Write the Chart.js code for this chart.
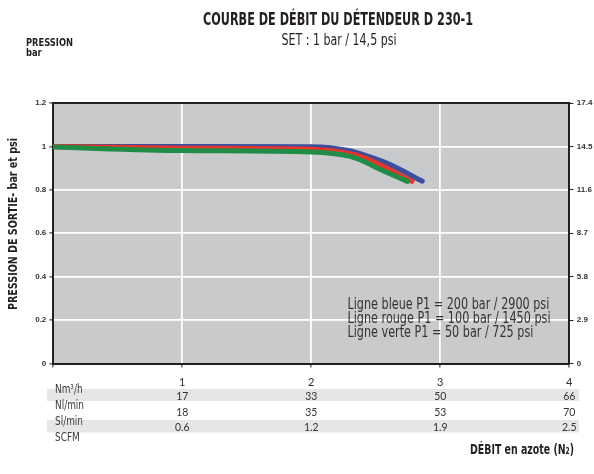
<!DOCTYPE html>
<html><head><meta charset="utf-8">
<script src="https://cdn.jsdelivr.net/npm/chart.js@4.4.1/dist/chart.umd.min.js"></script>
<style>html,body{margin:0;padding:0;background:#fff}#wrap{width:594px;height:474px;position:relative}canvas{display:block}</style>
</head><body><div id="wrap"><canvas id="c" width="594" height="474"></canvas></div>
<script>
// ---- texts ----
const chartTitle = 'COURBE DE DÉBIT DU DÉTENDEUR D 230-1';
const chartSubtitle = 'SET : 1 bar / 14,5 psi';
const yAxisTitle = 'PRESSION DE SORTIE- bar et psi';
const cornerLabel = ['PRESSION', 'bar'];
const xAxisTitle = 'DÉBIT en azote (N₂)';
const legendLines = [
  'Ligne bleue P1 = 200 bar / 2900 psi',
  'Ligne rouge P1 = 100 bar / 1450 psi',
  'Ligne verte P1 = 50 bar / 725 psi'
];
// ---- ticks ----
const barTicks = [0, 0.2, 0.4, 0.6, 0.8, 1, 1.2];
const psiTicks = [0, 2.9, 5.8, 8.7, 11.6, 14.5, 17.4];
const flowTicks = [1, 2, 3, 4];            // Nm³/h
// ---- conversion table ----
const unitLabels = ['Nm³/h', 'Nl/min', 'Sl/min', 'SCFM'];
const nlMin = ['17', '33', '50', '66'];
const slMin = ['18', '35', '53', '70'];
const scfm = ['0.6', '1.2', '1.9', '2.5'];
// ---- series (x: Nm³/h, y: bar) ----
const blueX = [0, 1, 2.0, 2.3, 2.4, 2.585, 2.86];
const blueY = [1.0, 1.0, 0.999, 0.98, 0.962, 0.923, 0.84];
const redX = [0, 1, 2.0, 2.3, 2.4, 2.55, 2.78];
const redY = [1.0, 0.992, 0.987, 0.967, 0.95, 0.91, 0.839];
const greenX = [0, 1, 2.0, 2.3, 2.4, 2.52, 2.745];
const greenY = [0.997, 0.981, 0.974, 0.954, 0.933, 0.898, 0.839];

const NARROW = '"Liberation Sans Narrow","DejaVu Sans Condensed","Liberation Sans",sans-serif';
const pts = (xs, ys) => xs.map((v, i) => ({x: v, y: ys[i]}));

function fitText(ctx, txt, x, y, font, w, align, color) {
  ctx.save();
  ctx.font = font; ctx.fillStyle = color; ctx.textBaseline = 'middle'; ctx.textAlign = align;
  const s = w / ctx.measureText(txt).width;
  ctx.translate(x, y); ctx.scale(s, 1); ctx.fillText(txt, 0, 0);
  ctx.restore();
}
function scaledText(ctx, txt, x, y, font, s, align, color) {
  ctx.save();
  ctx.font = font; ctx.fillStyle = color; ctx.textBaseline = 'middle'; ctx.textAlign = align;
  ctx.translate(x, y); ctx.scale(s, 1); ctx.fillText(txt, 0, 0);
  ctx.restore();
}

const decor = {
  id: 'decor',
  beforeDraw(chart) {
    const {ctx, chartArea: a} = chart;
    ctx.save();
    ctx.fillStyle = '#c9cacc';
    ctx.fillRect(a.left, a.top, a.right - a.left, a.bottom - a.top);
    // table bands
    ctx.fillStyle = '#e6e6e6';
    ctx.fillRect(47, 389, 532, 12);
    ctx.fillRect(47, 420, 532, 12.5);
    ctx.restore();
  },
  afterDraw(chart) {
    const {ctx, chartArea: a, scales: {x}} = chart;
    // top frame line
    ctx.save();
    ctx.strokeStyle = '#231f20'; ctx.lineWidth = 2;
    ctx.beginPath(); ctx.moveTo(a.left - 1, a.top); ctx.lineTo(a.right + 1, a.top); ctx.stroke();
    ctx.restore();
    // titles
    fitText(ctx, chartTitle, 338, 21, 'bold 17px ' + NARROW, 270, 'center', '#231f20');
    fitText(ctx, chartSubtitle, 339, 41.5, '15px ' + NARROW, 115, 'center', '#231f20');
    ctx.save(); ctx.font = 'bold 11px ' + NARROW;
    const cs = 47 / ctx.measureText(cornerLabel[0]).width; ctx.restore();
    scaledText(ctx, cornerLabel[0], 26, 43, 'bold 11px ' + NARROW, cs, 'left', '#231f20');
    scaledText(ctx, cornerLabel[1], 26, 53, 'bold 11px ' + NARROW, cs, 'left', '#231f20');
    // y axis title
    ctx.save();
    ctx.translate(14, 224); ctx.rotate(-Math.PI / 2);
    fitText(ctx, yAxisTitle, 0, 0, 'bold 13px ' + NARROW, 172, 'center', '#231f20');
    ctx.restore();
    // legend text inside plot
    ctx.save(); ctx.font = '15px ' + NARROW;
    const s = 203 / ctx.measureText(legendLines[1]).width; ctx.restore();
    legendLines.forEach((t, i) => scaledText(ctx, t, 347.5, 305 + i * 13.9, '15px ' + NARROW, s, 'left', '#333333'));
    // table
    ctx.save(); ctx.font = '12px ' + NARROW;
    const ls = 29 / ctx.measureText(unitLabels[1]).width; ctx.restore();
    const labelY = [390, 405.7, 422.3, 438.3];
    unitLabels.forEach((t, i) => scaledText(ctx, t, 55, labelY[i], '12px ' + NARROW, ls, 'left', '#3a3a3a'));
    const rows = [nlMin, slMin, scfm];
    const rowY = [396.7, 412.3, 427.3];
    rows.forEach((r, j) => r.forEach((t, i) => {
      const px = x.getPixelForValue(flowTicks[i]);
      scaledText(ctx, t, px, rowY[j], '11px Lato, "Open Sans", sans-serif', 0.95, 'center', '#333333');
    }));
    // x axis title
    fitText(ctx, xAxisTitle, 574, 450, 'bold 14px ' + NARROW, 104, 'right', '#231f20');
  }
};

const tickFont = {family: '"Liberation Sans", Arial, sans-serif', size: 8, weight: 'bold'};

new Chart(document.getElementById('c'), {
  type: 'line',
  data: {
    datasets: [
      {label: 'verte', data: pts(greenX, greenY), borderColor: '#1f8d46'},
      {label: 'rouge', data: pts(redX, redY), borderColor: '#e8342a'},
      {label: 'bleue', data: pts(blueX, blueY), borderColor: '#3b4f9e'}
    ].map(d => Object.assign(d, {
      borderWidth: 5, pointRadius: 0, fill: false, cubicInterpolationMode: 'monotone',
      borderCapStyle: 'round', borderJoinStyle: 'round', yAxisID: 'y'
    }))
  },
  options: {
    responsive: false, animation: false, devicePixelRatio: 1,
    layout: {padding: {top: 103, left: 0, right: 0, bottom: 0}},
    plugins: {legend: {display: false}, tooltip: {enabled: false}, title: {display: false}},
    scales: {
      x: {
        type: 'linear', min: 0, max: 4, position: 'bottom',
        afterBuildTicks: sc => { sc.ticks = [0, ...flowTicks].map(v => ({value: v})); },
        afterFit: sc => { sc.height = 110.5; },
        ticks: {padding: 8, color: '#333333', font: {family: 'Lato, "Open Sans", sans-serif', size: 11},
          callback: v => v === 0 ? '' : String(v), maxRotation: 0},
        grid: {color: c => (c.tick && (c.tick.value === 0 || c.tick.value === 4)) ? 'rgba(0,0,0,0)' : '#ffffff',
          lineWidth: 1.8, tickColor: '#231f20', tickLength: 4, tickWidth: 1},
        border: {display: true, color: '#231f20', width: 2}
      },
      y: {
        type: 'linear', min: 0, max: 1.2, position: 'left',
        afterBuildTicks: sc => { sc.ticks = barTicks.map(v => ({value: v})); },
        afterFit: sc => { sc.width = 53.3; },
        ticks: {padding: 3, color: '#333333', font: tickFont, callback: v => String(+v.toFixed(1))},
        grid: {color: c => (c.tick && (c.tick.value === 0 || c.tick.value === 1.2)) ? 'rgba(0,0,0,0)' : '#ffffff',
          lineWidth: 1.8, tickColor: '#231f20', tickLength: 4, tickWidth: 1},
        border: {display: true, color: '#231f20', width: 2}
      },
      y2: {
        type: 'linear', min: 0, max: 17.4, position: 'right',
        afterBuildTicks: sc => { sc.ticks = psiTicks.map(v => ({value: v})); },
        afterFit: sc => { sc.width = 24.7; },
        ticks: {padding: 3.5, color: '#333333', font: tickFont, callback: v => v === 0 ? '0' : v.toFixed(1)},
        grid: {drawOnChartArea: false, tickColor: '#231f20', tickLength: 4, tickWidth: 1},
        border: {display: true, color: '#231f20', width: 2}
      }
    }
  },
  plugins: [decor]
});
</script>
</body></html>
